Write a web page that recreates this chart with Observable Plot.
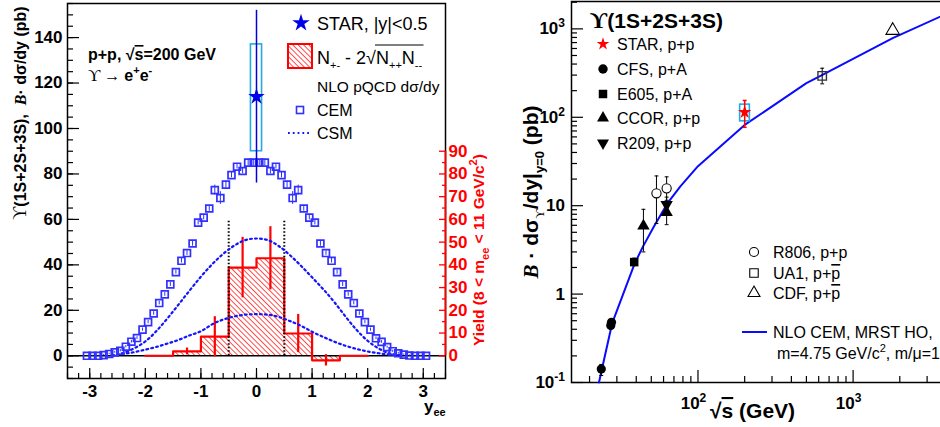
<!DOCTYPE html>
<html><head><meta charset="utf-8">
<script src="https://cdn.jsdelivr.net/npm/d3@7"></script>
<script src="https://cdn.jsdelivr.net/npm/@observablehq/plot@0.6"></script>
<style>
html,body{margin:0;padding:0;background:#fff;overflow:hidden;width:940px;height:427px;}
#wrap{position:relative;width:940px;height:427px;overflow:hidden;background:#fff;}
#left{position:absolute;left:0;top:0;width:480px;height:427px;}
#right{position:absolute;left:480px;top:0;width:470px;height:427px;}
</style></head><body><div id="wrap"><div id="left"></div><div id="right"></div></div>
<script>
// ================= DATA: left panel (rapidity) =================
const cemX = [-3.05,-2.95,-2.85,-2.75,-2.65,-2.55,-2.45,-2.35,-2.25,-2.15,-2.05,-1.95,-1.85,-1.75,-1.65,-1.55,-1.45,-1.35,-1.25,-1.15,-1.05,-0.95,-0.85,-0.75,-0.65,-0.55,-0.45,-0.35,-0.25,-0.15,-0.05,
  0.05,0.15,0.25,0.35,0.45,0.55,0.65,0.75,0.85,0.95,1.05,1.15,1.25,1.35,1.45,1.55,1.65,1.75,1.85,1.95,2.05,2.15,2.25,2.35,2.45,2.55,2.65,2.75,2.85,2.95,3.05];
const cemY = [0,0,0,0.3,0.8,1.5,2.2,4.0,6.2,7.8,11.5,14.8,18.6,23.2,27.0,31.4,36.8,41.8,45.2,49.4,58.6,60.8,64.8,72.9,69.4,75.3,79.5,83.2,81.3,85.0,85.0,
  85.0,85.0,81.3,83.2,79.5,75.3,69.4,72.9,64.8,60.8,58.6,49.4,45.2,41.8,36.8,31.4,27.0,23.2,18.6,14.8,11.5,7.7,6.1,3.8,2.0,1.1,0.5,0.1,0,0,0];
const cemErr = [0.2,0.2,0.2,0.3,0.3,0.4,0.5,0.5,0.6,0.6,0.7,0.7,0.8,0.8,0.8,0.9,0.9,1.0,1.0,1.2,1.0,1.0,1.2,2.2,2.8,1.5,1.2,1.0,1.2,1.5,1.5,
  1.5,1.5,1.2,1.0,1.2,1.5,2.8,2.2,1.2,1.0,1.0,1.2,1.0,1.0,0.9,0.9,0.8,0.8,0.8,0.7,0.7,0.6,0.6,0.5,0.5,0.4,0.3,0.3,0.2,0.2,0.2];
const csmX = [-2.6,-2.4,-2.2,-2.0,-1.8,-1.6,-1.4,-1.2,-1.0,-0.8,-0.6,-0.4,-0.2,0,0.2,0.4,0.6,0.8,1.0,1.2,1.4,1.6,1.8,2.0,2.2,2.4,2.6];
const csmHigh = [0.2,1.2,3.3,6.3,10.9,16.5,22.6,28.8,34.8,40.2,44.8,48.5,50.9,51.6,50.9,48.3,44.3,39.6,34.5,29.3,23.6,17.3,11.4,6.6,3.2,1.0,0.1];
const csmLow  = [0.2,0.8,1.6,2.7,3.9,5.4,7.0,9.0,10.8,13.8,15.9,17.3,18.1,18.3,18.1,17.1,15.3,13.2,10.6,8.3,6.2,4.4,3.0,1.9,1.1,0.5,0.1];
const binEdges  = [-2,-1.5,-1,-0.5,0,0.5,1,1.5,2];
const yieldVals = [0,1.9,8.4,38.8,42.9,9.8,-2.0,0];
const yieldErr  = [0,1.5,8.8,13.3,13.9,8.4,2.5,0];
const starRap = [{x:0, y:114, lo:76, hi:152, sysLo:90, sysHi:137, xLo:-0.1, xHi:0.1}];
const cutEdges = [-0.5, 0.5];
const cutTop = 60;
const yTicksLeft = [0,20,40,60,80,100,120,140];
const yieldTicks = [0,10,20,30,40,50,60,70,80,90];
const rapTicks = [-3,-2,-1,0,1,2,3];

// ================= DATA: right panel (energy dependence) =================
const nloS = [23, 28, 39, 44, 52, 63.5, 77, 100, 200, 500, 630, 1800, 4000];
const nloV = [0.1, 0.47, 2.2, 3.4, 5.8, 10.6, 16.5, 28, 82, 243, 300, 787, 1480];
const starS = [200], starV = [114], starLo = [77], starHi = [155];
const starBoxS1 = [187], starBoxS2 = [216], starBoxLo = [90], starBoxHi = [139];
const cfsS = [23.8, 27.4, 27.7], cfsV = [0.142, 0.44, 0.48], cfsLo = [0.12, 0.41, 0.45], cfsHi = [0.16, 0.47, 0.51];
const e605S = [38.8], e605V = [2.3], e605Lo = [2.1], e605Hi = [2.55];
const ccorS = [44.5, 62.8], ccorV = [5.9, 8.4], ccorLo = [3.0, 6.1], ccorHi = [9.1, 11];
const r209S = [62.8], r209V = [10.3], r209Lo = [8], r209Hi = [12.5];
const r806S = [54, 62.8], r806V = [13.8, 15.7], r806Lo = [6.3, 11.5], r806Hi = [21.7, 21.2];
const ua1S = [632], ua1V = [294], ua1Lo = [239], ua1Hi = [359];
const cdfS = [1800], cdfV = [960];
const sqrtsTicks = [100, 1000];
const sqrtsTickExp = ["2", "3"];
const xsecTicks = [0.1, 1, 10, 100, 1000];
const xsecTickBase = ["10", "1", "10", "10", "10"];
const xsecTickExp = ["-1", "", "", "2", "3"];

// ================= helpers =================
const FONT = "'Liberation Sans', Arial, Helvetica, sans-serif";
const SERIF = "'Liberation Serif', 'Times New Roman', serif";
const BLUE = "#1414ff", CEMBLUE = "#3030ff", RED = "#ff0000", CYAN = "#25a9e6";

function rich(svg, o, parts) {
  const t = d3.select(svg).append("text")
    .attr("text-anchor", o.anchor || "start")
    .attr("font-family", FONT).attr("font-size", o.size)
    .attr("font-weight", o.weight || "normal")
    .attr("fill", o.fill || "black");
  if (o.rotate) t.attr("transform", `translate(${o.x},${o.y}) rotate(${o.rotate})`);
  else t.attr("x", o.x).attr("y", o.y);
  let cur = 0;
  const spans = [];
  for (const p of parts) {
    const target = p.shift || 0;
    const ts = t.append("tspan").text(p.t).attr("dy", target - cur);
    cur = target;
    if (p.size) ts.attr("font-size", p.size);
    if (p.family) ts.attr("font-family", p.family);
    if (p.style) ts.attr("font-style", p.style);
    if (p.weight) ts.attr("font-weight", p.weight);
    if (p.deco) ts.style("text-decoration", p.deco);
    spans.push(ts);
  }
  return {t, spans};
}
const triDown = {draw(ctx, size) { const y = -Math.sqrt(size / (Math.sqrt(3) * 3)); ctx.moveTo(0, -2 * y); ctx.lineTo(-Math.sqrt(3) * y, y); ctx.lineTo(Math.sqrt(3) * y, y); ctx.closePath(); }};
const capSym = {draw(ctx, size) { const w = Math.sqrt(size) / 2; ctx.moveTo(-w, 0); ctx.lineTo(w, 0); }};

// ================= LEFT PANEL =================
const L = {width: 480, height: 427, ml: 67, mr: 35, mt: 3, mb: 49};
const LW = L.width - L.ml - L.mr, LH = L.height - L.mt - L.mb;
const cem = cemX.map((x, i) => ({x, y: cemY[i], e: cemErr[i]}));
const csmHi = csmX.map((x, i) => ({x, y: csmHigh[i]}));
const csmLo = csmX.map((x, i) => ({x, y: csmLow[i]}));
const bins = yieldVals.map((v, i) => ({x1: binEdges[i], x2: binEdges[i + 1], c: (binEdges[i] + binEdges[i + 1]) / 2, y: v, e: yieldErr[i]}));
const stepPts = bins.map(b => ({x: b.x1, y: b.y})).concat([{x: binEdges[binEdges.length - 1], y: yieldVals[yieldVals.length - 1]}]);
const yMinorL = d3.range(-10, 156, 5);
const xMinorL = d3.range(-17, 18).map(k => k * 0.2);
const yieldMinor = d3.range(5, 90, 10);

const plotL = Plot.plot({
  width: L.width, height: L.height,
  marginLeft: L.ml, marginRight: L.mr, marginTop: L.mt, marginBottom: L.mb,
  style: {background: "transparent", overflow: "visible", fontFamily: FONT, maxWidth: "none"},
  x: {domain: [-3.4, 3.4], axis: null},
  y: {domain: [-10, 155], axis: null},
  marks: [
    Plot.rectY(bins.filter(b => b.y !== 0), {x1: "x1", x2: "x2", y1: 0, y2: "y", fill: "url(#hatchL)"}),
    Plot.ruleY([0], {stroke: "black", strokeWidth: 1.3}),
    Plot.line(stepPts, {x: "x", y: "y", curve: "step-after", stroke: RED, strokeWidth: 2.2}),
    Plot.ruleX(bins.filter(b => b.e > 0), {x: "c", y1: d => d.y - d.e, y2: d => d.y + d.e, stroke: RED, strokeWidth: 2.2}),
    Plot.ruleX(cutEdges, {x: d => d, y1: 0, y2: cutTop, stroke: "black", strokeWidth: 2, strokeDasharray: "1.5,2"}),
    Plot.line(csmHi, {x: "x", y: "y", curve: "natural", stroke: BLUE, strokeWidth: 2.2, strokeDasharray: "1.8,3.2"}),
    Plot.line(csmLo, {x: "x", y: "y", curve: "natural", stroke: BLUE, strokeWidth: 2.2, strokeDasharray: "1.8,3.2"}),
    Plot.ruleX(cem, {x: "x", y1: d => d.y - d.e, y2: d => d.y + d.e, stroke: CEMBLUE, strokeWidth: 1}),
    Plot.dot(cem, {x: "x", y: "y", symbol: "square", r: 3.9, stroke: CEMBLUE, strokeWidth: 1.7, fill: "none"}),
    Plot.rect(starRap, {x1: "xLo", x2: "xHi", y1: "sysLo", y2: "sysHi", stroke: CYAN, strokeWidth: 1.6, fill: "none"}),
    Plot.ruleX(starRap, {x: "x", y1: "lo", y2: "hi", stroke: "#0000e0", strokeWidth: 1.5}),
    Plot.dot(starRap, {x: "x", y: "y", symbol: "star", r: 5.2, fill: "#0000e8", stroke: "none"}),
    // axes: ticks drawn inward
    Plot.ruleY(yTicksLeft, {y: d => d, insetRight: LW - 12, stroke: "black", strokeWidth: 1.2}),
    Plot.ruleY(yMinorL, {y: d => d, insetRight: LW - 6, stroke: "black", strokeWidth: 1.2}),
    Plot.ruleX(rapTicks, {x: d => d, insetTop: LH - 10, stroke: "black", strokeWidth: 1.2}),
    Plot.ruleX(xMinorL, {x: d => d, insetTop: LH - 5, stroke: "black", strokeWidth: 1.2}),
    Plot.frame({stroke: "black", strokeWidth: 1.5}),
    Plot.ruleX([3.4], {x: d => d, y1: 0, y2: 90, stroke: RED, strokeWidth: 1.8}),
    Plot.ruleY(yieldTicks, {y: d => d, insetLeft: LW - 6, stroke: RED, strokeWidth: 1.3}),
    Plot.ruleY(yieldMinor, {y: d => d, insetLeft: LW - 3, stroke: RED, strokeWidth: 1.3}),
    Plot.text(yTicksLeft, {y: d => d, text: d => String(d), frameAnchor: "left", textAnchor: "end", dx: -5, fontSize: 17, fontWeight: "bold", fill: "black"}),
    Plot.text(rapTicks, {x: d => d, text: d => String(d), frameAnchor: "bottom", dy: 13, lineAnchor: "middle", fontSize: 17, fontWeight: "bold", fill: "black"}),
    Plot.text(yieldTicks, {y: d => d, text: d => String(d), frameAnchor: "right", textAnchor: "start", dx: 3, fontSize: 17, fontWeight: "bold", fill: RED})
  ]
});
document.getElementById("left").appendChild(plotL);
{
  const defs = d3.select(plotL).insert("defs", ":first-child");
  const pat = defs.append("pattern").attr("id", "hatchL").attr("patternUnits", "userSpaceOnUse")
    .attr("width", 3.8).attr("height", 3.8).attr("patternTransform", "rotate(-45)");
  pat.append("line").attr("x1", 0).attr("y1", 0).attr("x2", 0).attr("y2", 3.8).attr("stroke", RED).attr("stroke-width", 1.4);
  const g = d3.select(plotL);
  // axis titles
  rich(plotL, {x: 26, y: 113, rotate: -90, anchor: "middle", size: 16, weight: "bold"},
    [{t: "ϒ", family: SERIF, weight: "normal", size: 18}, {t: "(1S+2S+3S),  "}, {t: "B", family: SERIF, style: "italic"}, {t: "· dσ/dy (pb)"}]);
  rich(plotL, {x: 484, y: 250, rotate: -90, anchor: "middle", size: 15.5, weight: "bold", fill: RED},
    [{t: "Yield (8 < m"}, {t: "ee", size: 11, shift: 5}, {t: " < 11 GeV/c", shift: 0}, {t: "2", size: 11, shift: -7}, {t: ")", shift: 0}]);
  rich(plotL, {x: 424, y: 412, size: 17, weight: "bold"}, [{t: "y"}, {t: "ee", size: 11, shift: 4}]);
  // annotations
  rich(plotL, {x: 88, y: 60, size: 16, weight: "bold"}, [{t: "p+p, √"}, {t: "s", deco: "overline"}, {t: "=200 GeV"}]);
  rich(plotL, {x: 88, y: 81, size: 16, weight: "bold"},
    [{t: "ϒ", family: SERIF, weight: "normal", size: 17}, {t: " → ", family: SERIF, weight: "normal"}, {t: "e"}, {t: "+", size: 11, shift: -7}, {t: "e", shift: 0}, {t: "-", size: 11, shift: -7}]);
  // legend
  g.append("path").attr("d", d3.symbol(d3.symbolStar, 95)()).attr("transform", "translate(301,23)").attr("fill", "#0000e8");
  rich(plotL, {x: 317, y: 30, size: 18}, [{t: "STAR, |y|<0.5"}]);
  g.append("rect").attr("x", 288).attr("y", 44).attr("width", 24).attr("height", 24).attr("fill", "url(#hatchL)").attr("stroke", RED).attr("stroke-width", 2);
  const nl = rich(plotL, {x: 317, y: 64, size: 18},
    [{t: "N"}, {t: "+-", size: 11, shift: 5}, {t: " - 2√", shift: 0}, {t: "N"}, {t: "++", size: 11, shift: 5}, {t: "N", shift: 0}, {t: "--", size: 11, shift: 5}]);
  const b1 = nl.spans[3].node().getBBox(), b2 = nl.spans[6].node().getBBox();
  g.append("line").attr("x1", b1.x - 1).attr("x2", b2.x + b2.width + 1).attr("y1", 45).attr("y2", 45).attr("stroke", "black").attr("stroke-width", 1.2);
  rich(plotL, {x: 317, y: 92, size: 15.5}, [{t: "NLO pQCD dσ/dy"}]);
  g.append("rect").attr("x", 296.5).attr("y", 106.5).attr("width", 7).attr("height", 7).attr("fill", "none").attr("stroke", CEMBLUE).attr("stroke-width", 1.6);
  rich(plotL, {x: 317, y: 116, size: 16}, [{t: "CEM"}]);
  g.append("line").attr("x1", 288).attr("x2", 312).attr("y1", 133).attr("y2", 133).attr("stroke", BLUE).attr("stroke-width", 2.2).attr("stroke-dasharray", "1.8,3");
  rich(plotL, {x: 317, y: 139, size: 16}, [{t: "CSM"}]);
}

// ================= RIGHT PANEL =================
const R = {width: 470, height: 427, ml: 91, mr: 4, mt: 1, mb: 45};
const RW = R.width - R.ml - R.mr, RH = R.height - R.mt - R.mb;
const nlo = nloS.map((s, i) => ({s, v: nloV[i]}));
const pts = (S, V, Lo, Hi) => S.map((s, i) => ({s, v: V[i], lo: Lo ? Lo[i] : V[i], hi: Hi ? Hi[i] : V[i]}));
const star = pts(starS, starV, starLo, starHi);
const starBox = starBoxS1.map((s, i) => ({s1: s, s2: starBoxS2[i], lo: starBoxLo[i], hi: starBoxHi[i]}));
const cfs = pts(cfsS, cfsV, cfsLo, cfsHi);
const e605 = pts(e605S, e605V, e605Lo, e605Hi);
const ccor = pts(ccorS, ccorV, ccorLo, ccorHi);
const r209 = pts(r209S, r209V, r209Lo, r209Hi);
const r806 = pts(r806S, r806V, r806Lo, r806Hi);
const ua1 = pts(ua1S, ua1V, ua1Lo, ua1Hi);
const cdf = pts(cdfS, cdfV);
const blackErr = [...cfs, ...e605, ...ccor, ...r209, ...r806, ...ua1];
const caps = blackErr.flatMap(d => [{s: d.s, v: d.lo}, {s: d.s, v: d.hi}]);
const yMinorR = [0.1, 1, 10, 100, 1000].flatMap(d => [2, 3, 4, 5, 6, 7, 8, 9].map(k => d * k)).filter(v => v < 2040);
const xMinorR = [10, 100, 1000].flatMap(d => [2, 3, 4, 5, 6, 7, 8, 9].map(k => d * k)).filter(v => v > 15.3 && v < 4000);

const plotR = Plot.plot({
  width: R.width, height: R.height,
  marginLeft: R.ml, marginRight: R.mr, marginTop: R.mt, marginBottom: R.mb,
  style: {background: "transparent", overflow: "visible", fontFamily: FONT, maxWidth: "none"},
  x: {type: "log", domain: [15.3, 4000], axis: null},
  y: {type: "log", domain: [0.1, 2040], axis: null},
  marks: [
    Plot.ruleY(xsecTicks, {y: d => d, insetRight: RW - 12, stroke: "black", strokeWidth: 1.2}),
    Plot.ruleY(yMinorR, {y: d => d, insetRight: RW - 6, stroke: "black", strokeWidth: 1.2}),
    Plot.ruleX(sqrtsTicks, {x: d => d, insetTop: RH - 12, stroke: "black", strokeWidth: 1.2}),
    Plot.ruleX(xMinorR, {x: d => d, insetTop: RH - 6, stroke: "black", strokeWidth: 1.2}),
    Plot.frame({stroke: "black", strokeWidth: 1.5}),
    Plot.line(nlo, {x: "s", y: "v", stroke: "#0a0aff", strokeWidth: 2}),
    Plot.rect(starBox, {x1: "s1", x2: "s2", y1: "lo", y2: "hi", stroke: CYAN, strokeWidth: 1.6, fill: "none"}),
    Plot.ruleX(blackErr, {x: "s", y1: "lo", y2: "hi", stroke: "black", strokeWidth: 1}),
    Plot.dot(caps, {x: "s", y: "v", symbol: capSym, r: 2.2, stroke: "black", strokeWidth: 1, fill: "none"}),
    Plot.ruleX(star, {x: "s", y1: "lo", y2: "hi", stroke: RED, strokeWidth: 1.5}),
    Plot.dot(star.flatMap(d => [{s: d.s, v: d.lo}, {s: d.s, v: d.hi}]), {x: "s", y: "v", symbol: capSym, r: 2.2, stroke: RED, strokeWidth: 1.5, fill: "none"}),
    Plot.dot(cfs, {x: "s", y: "v", symbol: "circle", r: 4.6, fill: "black"}),
    Plot.dot(e605, {x: "s", y: "v", symbol: "square", r: 4.8, fill: "black"}),
    Plot.dot(ccor, {x: "s", y: "v", symbol: "triangle", r: 4.6, fill: "black"}),
    Plot.dot(r209, {x: "s", y: "v", symbol: triDown, r: 4.6, fill: "black", stroke: "none"}),
    Plot.dot(r806, {x: "s", y: "v", symbol: "circle", r: 4.6, fill: "white", stroke: "black", strokeWidth: 1.1}),
    Plot.dot(ua1, {x: "s", y: "v", symbol: "square", r: 4.8, fill: "none", stroke: "#333", strokeWidth: 1.4}),
    Plot.dot(cdf, {x: "s", y: "v", symbol: "triangle", r: 5, fill: "none", stroke: "black", strokeWidth: 1.1}),
    Plot.dot(star, {x: "s", y: "v", symbol: "star", r: 4.2, fill: RED, stroke: "none"})
  ]
});
document.getElementById("right").appendChild(plotR);
{
  const sx = plotR.scale("x"), sy = plotR.scale("y");
  const g = d3.select(plotR);
  const left = R.ml, bottom = R.height - R.mb;
  // y tick labels
  xsecTicks.forEach((v, i) => {
    const parts = xsecTickExp[i] ? [{t: xsecTickBase[i]}, {t: xsecTickExp[i], size: 12, shift: -7}] : [{t: xsecTickBase[i]}];
    rich(plotR, {x: left - 6, y: sy.apply(v) + 6, anchor: "end", size: 17, weight: "bold"}, parts);
  });
  // x tick labels
  sqrtsTicks.forEach((v, i) => {
    rich(plotR, {x: sx.apply(v) - 4, y: bottom + 27, anchor: "middle", size: 17, weight: "bold"},
      [{t: "10"}, {t: sqrtsTickExp[i], size: 12, shift: -7}]);
  });
  // axis titles
  rich(plotR, {x: 230, y: 418, size: 21, weight: "bold"}, [{t: "√"}, {t: "s", deco: "overline"}, {t: " (GeV)"}]);
  rich(plotR, {x: 58, y: 192, rotate: -90, anchor: "middle", size: 21, weight: "bold"},
    [{t: "B", family: SERIF, style: "italic"}, {t: " · dσ"}, {t: "ϒ", family: SERIF, weight: "normal", size: 13, shift: 6}, {t: "/dy|", shift: 0}, {t: "y=0", size: 13, shift: 6}, {t: " (pb)", shift: 0}]);
  // title
  rich(plotR, {x: 110, y: 28, size: 21, weight: "bold"}, [{t: "ϒ", family: SERIF, size: 24}, {t: "(1S+2S+3S)"}]);
  // legend left column
  const lx = 123, tx = 137;
  const legL = [
    {y: 44, sym: d3.symbolStar, size: 50, fill: RED, label: "STAR, p+p"},
    {y: 69, sym: d3.symbolCircle, size: 70, fill: "black", label: "CFS, p+A"},
    {y: 94, sym: d3.symbolSquare, size: 72, fill: "black", label: "E605, p+A"},
    {y: 118, sym: d3.symbolTriangle, size: 62, fill: "black", label: "CCOR, p+p"},
    {y: 143, sym: triDown, size: 62, fill: "black", label: "R209, p+p"}
  ];
  legL.forEach(d => {
    g.append("path").attr("d", d3.symbol(d.sym, d.size)()).attr("transform", `translate(${lx},${d.y})`).attr("fill", d.fill);
    rich(plotR, {x: tx, y: d.y + 6, size: 16}, [{t: d.label}]);
  });
  // legend right column
  const rx = 274, rtx = 293;
  const legR = [
    {y: 252, sym: d3.symbolCircle, size: 65, parts: [{t: "R806, p+p"}]},
    {y: 273, sym: d3.symbolSquare, size: 72, parts: [{t: "UA1, p+"}, {t: "p", deco: "overline"}]},
    {y: 293, sym: d3.symbolTriangle, size: 62, parts: [{t: "CDF, p+"}, {t: "p", deco: "overline"}]}
  ];
  legR.forEach(d => {
    g.append("path").attr("d", d3.symbol(d.sym, d.size)()).attr("transform", `translate(${rx},${d.y})`).attr("fill", "none").attr("stroke", "black").attr("stroke-width", 1.1);
    rich(plotR, {x: rtx, y: d.y + 6, size: 16}, d.parts);
  });
  g.append("line").attr("x1", 262).attr("x2", 287).attr("y1", 332).attr("y2", 332).attr("stroke", "#0a0aff").attr("stroke-width", 2);
  rich(plotR, {x: 293, y: 338, size: 16}, [{t: "NLO CEM, MRST HO,"}]);
  rich(plotR, {x: 297, y: 359, size: 16}, [{t: "m=4.75 GeV/c"}, {t: "2", size: 11, shift: -7}, {t: ", m/μ=1", shift: 0}]);
}
</script></body></html>
